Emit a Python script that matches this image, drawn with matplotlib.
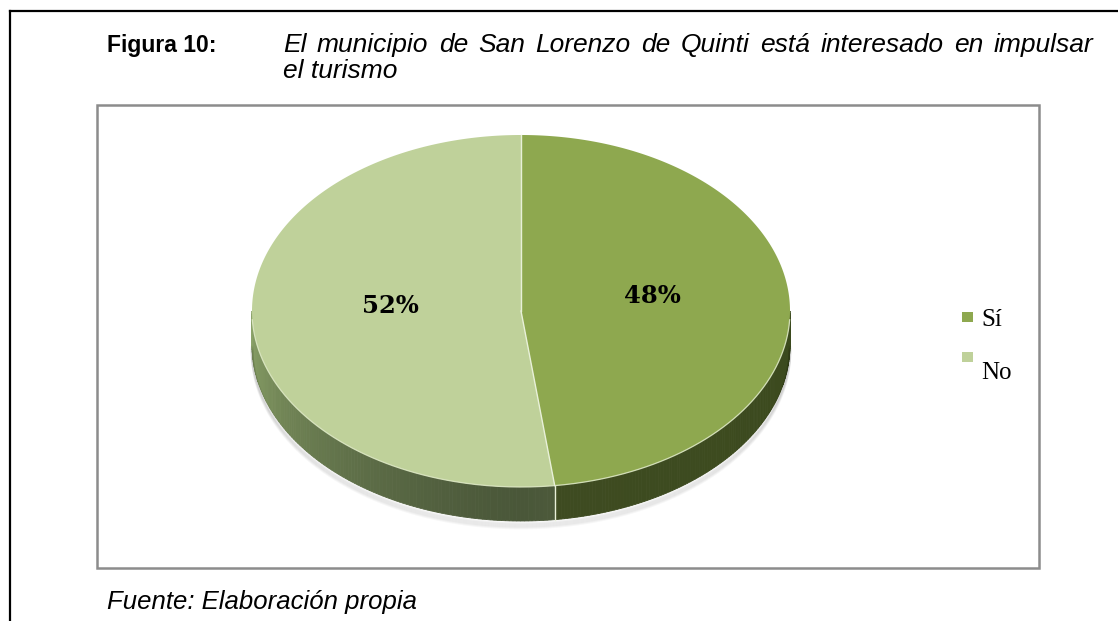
import numpy as np
import matplotlib
matplotlib.use("Agg")
import matplotlib.pyplot as plt
from matplotlib.patches import Polygon, Rectangle
from matplotlib.colors import to_rgb

# ---- data ----
labels = ["Sí", "No"]
values = [48, 52]
top_colors = ["#8EA84F", "#BFD19A"]
side_colors = [("#3E4B21", "#3B4A1D"), ("#4A5739", "#8AA268")]  # (near bottom, far end)

title_lead = "Figura 10:"
title_line1 = "El municipio de San Lorenzo de Quinti está interesado en impulsar"
title_line2 = "el turismo"
source = "Fuente: Elaboración propia"

W, H = 1118, 621
fig = plt.figure(figsize=(W / 100, H / 100), dpi=100)
ax = fig.add_axes([0, 0, 1, 1])
ax.set_xlim(0, W); ax.set_ylim(H, 0); ax.axis("off")

# page frame (top + left rule)
ax.plot([10, W], [11, 11], color="black", lw=1.6)
ax.plot([10, 10], [11, H], color="black", lw=1.6)

# chart box
ax.add_patch(Rectangle((97, 105), 942, 463, fill=False, ec="#8C8C8C", lw=1.8))

# titles
FS_B, FS_I = 16.5, 19
ax.text(107, 52, title_lead, fontsize=FS_B, fontweight="bold", family="Liberation Sans")

# first line is justified between x=283 and x=1093
renderer = fig.canvas.get_renderer()
words = title_line1.split()
widths = []
for w in words:
    t = ax.text(0, 0, w, fontsize=FS_I, style="italic", family="Liberation Sans")
    widths.append(t.get_window_extent(renderer).width)
    t.remove()
x0, x1 = 283, 1093
gap = (x1 - x0 - sum(widths)) / (len(words) - 1)
x = x0
for w, wd in zip(words, widths):
    ax.text(x, 52, w, fontsize=FS_I, style="italic", family="Liberation Sans")
    x += wd + gap
ax.text(283, 78, title_line2, fontsize=FS_I, style="italic", family="Liberation Sans")
ax.text(107, 609, source, fontsize=18.5, style="italic", family="Liberation Sans")

# ---- 3D pie geometry ----
cx, cy, rx, ry, depth = 521, 311, 269, 176, 34

def pt(theta, dy=0.0):
    # theta clockwise from 12 o'clock
    return cx + rx * np.sin(theta), cy - ry * np.cos(theta) + dy

fracs = np.array(values, dtype=float) / sum(values)
bounds = np.concatenate([[0], np.cumsum(fracs)]) * 2 * np.pi

# soft shadow
for k in range(6):
    th = np.linspace(np.pi / 2, 3 * np.pi / 2, 200)
    xs, ys = pt(th, depth + 2 + k)
    ax.plot(xs, ys, color="#000000", alpha=0.03, lw=2)

def blend(c1, c2, t):
    a, b = np.array(to_rgb(c1)), np.array(to_rgb(c2))
    return tuple(a + (b - a) * t)

# side walls (visible between 3 o'clock and 9 o'clock)
vis_lo, vis_hi = np.pi / 2, 3 * np.pi / 2
for i in range(len(values)):
    a0, a1 = max(bounds[i], vis_lo), min(bounds[i + 1], vis_hi)
    if a1 <= a0:
        continue
    n = 120
    th = np.linspace(a0, a1, n + 1)
    near, far = side_colors[i]
    for j in range(n):
        tm = 0.5 * (th[j] + th[j + 1])
        t = abs(tm - np.pi) / (np.pi / 2)
        col = blend(near, far, t ** 1.3)
        xa, ya = pt(th[j]); xb, yb = pt(th[j + 1])
        ax.add_patch(Polygon([(xa, ya), (xb, yb), (xb, yb + depth), (xa, ya + depth)],
                             closed=True, fc=col, ec=col, lw=0.6))

# separator on the side wall
for b in bounds:
    if vis_lo < b < vis_hi:
        xa, ya = pt(b)
        ax.plot([xa, xa], [ya, ya + depth], color="#E8F0D8", lw=1.0)

# top faces
for i in range(len(values)):
    th = np.linspace(bounds[i], bounds[i + 1], 300)
    xs, ys = pt(th)
    poly = [(cx, cy)] + list(zip(xs, ys))
    ax.add_patch(Polygon(poly, closed=True, fc=top_colors[i], ec="none"))

# rim highlight on front edge
th = np.linspace(np.pi / 2 + 0.05, 3 * np.pi / 2 - 0.05, 300)
xs, ys = pt(th)
ax.plot(xs, ys, color="#DDE8C4", lw=0.9, alpha=0.9)

# slice separators on top
for b in bounds[:-1]:
    xa, ya = pt(b)
    ax.plot([cx, xa], [cy, ya], color="#E8F0D8", lw=1.0)

# percentage labels
label_pos = [(652, 296), (390, 306)]
for (lx, ly), v in zip(label_pos, values):
    ax.text(lx, ly, f"{v}%", fontsize=17.5, fontweight="bold", family="DejaVu Serif",
            ha="center", va="center", color="black")

# legend
leg_y = [317, 357]
txt_y = [320, 373]
for i, lab in enumerate(labels):
    ax.add_patch(Rectangle((962, leg_y[i] - 5), 11, 10, fc=top_colors[i], ec="none"))
    ax.text(981, txt_y[i], lab, fontsize=18, family="Liberation Serif", va="center")

fig.savefig("out.png", dpi=100)
